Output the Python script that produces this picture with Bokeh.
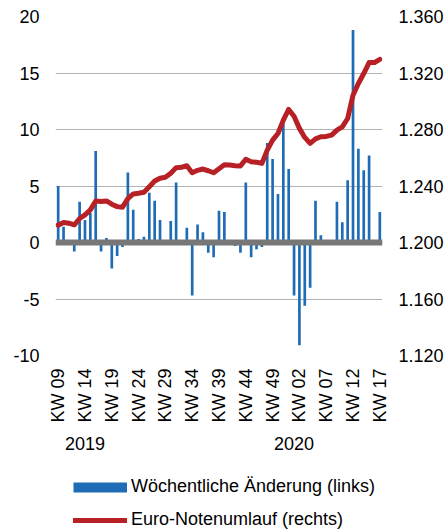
import math
from bokeh.plotting import figure
from bokeh.layouts import column
from bokeh.models import (Range1d, LinearAxis, FixedTicker, Span, Legend,
                          LegendItem)
from bokeh.embed import file_html
from bokeh.resources import INLINE

# ---------------- data ----------------
week_index = list(range(61))  # KW 09/2019 ... KW 17/2020

weekly_change = [5.0, 1.4, -0.2, -0.8, 3.6, 2.0, 2.6, 8.1, -0.8, 0.4,
                 -2.3, -1.2, -0.4, 6.2, 2.9, 0.3, 0.5, 4.4, 3.7, 2.0,
                 0.2, 1.9, 5.3, -0.2, 1.3, -4.7, 1.6, 0.9, -0.9, -1.3,
                 2.8, 2.7, 0.1, -0.3, -0.9, 5.3, -1.3, -0.6, -0.4, 8.8,
                 7.4, 4.3, 10.5, 6.5, -4.7, -9.1, -5.6, -4.0, 3.7, 0.65,
                 0.1, 0.2, 3.6, 1.8, 5.5, 18.8, 8.3, 6.4, 7.7, 0.2, 2.7]

circulation = [1212.3, 1214.1, 1213.7, 1212.5, 1217.0, 1219.6, 1223.1, 1229.4, 1229.0, 1229.4,
               1227.1, 1225.4, 1225.0, 1231.1, 1234.4, 1234.9, 1235.6, 1239.5, 1243.5, 1245.5,
               1246.2, 1249.0, 1253.0, 1253.2, 1254.4, 1249.4, 1251.1, 1252.0, 1250.8, 1249.4,
               1252.2, 1255.0, 1254.9, 1254.4, 1254.2, 1258.9, 1257.2, 1256.8, 1256.0, 1265.4,
               1272.5, 1277.2, 1286.6, 1294.2, 1289.4, 1280.8, 1274.4, 1270.2, 1273.4, 1274.9,
               1275.1, 1276.0, 1279.6, 1281.9, 1287.8, 1304.3, 1312.6, 1319.6, 1327.4, 1327.4,
               1329.7]

tick_positions = [0, 5, 10, 15, 20, 25, 30, 35, 40, 45, 50, 55, 60]
tick_labels = ["KW 09", "KW 14", "KW 19", "KW 24", "KW 29", "KW 34", "KW 39",
               "KW 44", "KW 49", "KW 02", "KW 07", "KW 12", "KW 17"]
year_positions = [5, 44]
year_labels = ["2019", "2020"]

left_ticks = [-10, -5, 0, 5, 10, 15, 20]
left_labels = ["-10", "-5", "0", "5", "10", "15", "20"]
right_ticks = [1120, 1160, 1200, 1240, 1280, 1320, 1360]
right_labels = ["1.120", "1.160", "1.200", "1.240", "1.280", "1.320", "1.360"]

legend_labels = ["Wöchentliche Änderung (links)", "Euro-Notenumlauf (rechts)"]

BLUE = "#1f6cb6"
RED = "#b72126"
FONT = "Liberation Sans"
FS = "18px"

# ---------------- main figure ----------------
p = figure(width=446, height=460, output_backend="svg",
           toolbar_location=None,
           x_range=Range1d(-0.5, 60.5), y_range=Range1d(-10, 20),
           min_border_left=55, min_border_right=64, min_border_top=16,
           min_border_bottom=105, outline_line_color=None)
p.extra_y_ranges = {"right": Range1d(1120, 1360)}

p.xgrid.visible = False
p.ygrid.ticker = FixedTicker(ticks=left_ticks)
p.ygrid.grid_line_color = "#b3b3b3"
p.ygrid.grid_line_width = 1


def style_axis(ax, standoff):
    ax.axis_line_color = None
    ax.major_tick_line_color = None
    ax.minor_tick_line_color = None
    ax.major_tick_out = 0
    ax.major_tick_in = 0
    ax.major_label_standoff = standoff
    ax.major_label_text_font = FONT
    ax.major_label_text_font_size = FS
    ax.major_label_text_color = "black"


# left axis
ya = p.yaxis[0]
ya.ticker = FixedTicker(ticks=left_ticks)
ya.major_label_overrides = dict(zip(left_ticks, left_labels))
style_axis(ya, 16)

# right axis
ra = LinearAxis(y_range_name="right", ticker=FixedTicker(ticks=right_ticks),
                major_label_overrides=dict(zip(right_ticks, right_labels)))
style_axis(ra, 16)
p.add_layout(ra, "right")

# bottom axis (week labels)
xa = p.xaxis[0]
xa.ticker = FixedTicker(ticks=tick_positions)
xa.major_label_overrides = dict(zip(tick_positions, tick_labels))
xa.major_label_orientation = math.pi / 2
style_axis(xa, 13)

# year axis
yr = LinearAxis(ticker=FixedTicker(ticks=year_positions),
                major_label_overrides=dict(zip(year_positions, year_labels)))
style_axis(yr, 11)
p.add_layout(yr, "below")

# glyphs
p.vbar(x=week_index, top=weekly_change, bottom=0, width=0.5,
       fill_color=BLUE, line_color=None)
p.add_layout(Span(location=0, dimension="width", line_color="#777777",
                  line_width=6))
p.line(week_index, circulation, y_range_name="right",
       line_color=RED, line_width=5, line_join="round", line_cap="round")

# ---------------- legend figure ----------------
lf = figure(width=446, height=69, output_backend="svg", toolbar_location=None,
            x_range=Range1d(0, 1), y_range=Range1d(0, 1),
            x_axis_location=None, y_axis_location=None,
            min_border=0, outline_line_color=None)
lf.grid.visible = False
k_bar = lf.line([-10, -9], [-10, -10], line_color=BLUE, line_width=10,
                line_cap="butt")
k_line = lf.line([-10, -9], [-10, -10], line_color=RED, line_width=5,
                 line_cap="round")
legend = Legend(items=[LegendItem(label=legend_labels[0], renderers=[k_bar]),
                       LegendItem(label=legend_labels[1], renderers=[k_line])],
                location=(18, -1), orientation="vertical",
                glyph_width=54, glyph_height=18, label_height=18, spacing=12,
                label_standoff=4, padding=0, margin=0,
                border_line_alpha=0, background_fill_alpha=0,
                label_text_font=FONT, label_text_font_size=FS,
                label_text_color="black")
lf.add_layout(legend, "center")

layout = column(p, lf, spacing=0)
open("out.html", "w").write(file_html(layout, INLINE))
